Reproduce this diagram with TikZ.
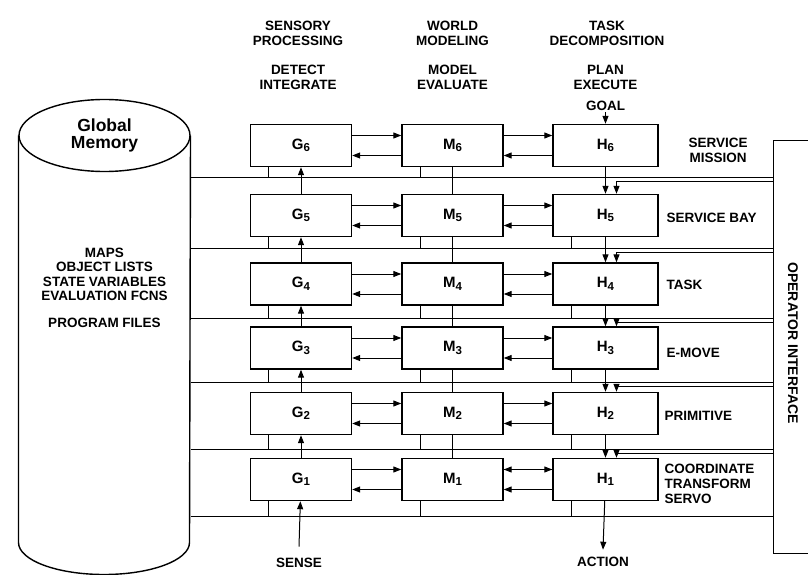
\documentclass[tikz,border=0pt]{standalone}
\usepackage{fontspec}
\setmainfont{Liberation Sans}
\usetikzlibrary{arrows.meta}

\newcommand{\idx}[1]{\raisebox{-2.5pt}{\fontsize{11.5}{11.5}\selectfont #1}}

\begin{document}
\begin{tikzpicture}[x=1pt, y=-1pt, line width=1pt,
    >={Triangle[length=8pt,width=6pt]},
    txt/.style={font=\fontsize{13.5}{15}\selectfont\bfseries, align=center, inner sep=1pt},
    unit/.style={draw, line width=1.4pt, minimum width=101pt, minimum height=42pt,
        inner sep=0pt, font=\fontsize{15}{15}\selectfont\bfseries}]
    \useasboundingbox (0,0) rectangle (808,575);
    \clip (0,0) rectangle (808,575);

    % global memory
    \node[minimum width=171pt, minimum height=406pt, inner sep=0pt] (mem) at (104.5,339) {};
    \draw[line width=1.4pt] (mem.north) ellipse [x radius=85.5pt, y radius=36pt];
    \draw[line width=1.4pt] (mem.north west) -- (mem.south west)
        arc[start angle=180, end angle=360, x radius=85.5pt, y radius=32pt] -- (mem.north east);
    \node[txt, font=\fontsize{17.5}{17}\selectfont\bfseries] (gm) at (104.5,135) {Global\\Memory};
    \node[txt, font=\fontsize{13.5}{14.5}\selectfont\bfseries] (data) at (104.5,274.5)
        {MAPS\\OBJECT LISTS\\STATE VARIABLES\\EVALUATION FCNS};
    \node[txt] (prog) at (104.5,323) {PROGRAM FILES};

    % operator interface
    \node[draw, line width=1.4pt, minimum width=60pt, minimum height=413pt, anchor=north west] (opi) at (773,140) {};
    \node[txt, font=\fontsize{14}{15}\selectfont\bfseries, rotate=-90] at (793,343) {OPERATOR INTERFACE};

    % column headings
    \node[txt] (sp) at (298,33.5) {SENSORY\\PROCESSING};
    \node[txt] (wm) at (452.5,33.5) {WORLD\\MODELING};
    \node[txt] (td) at (607,33.5) {TASK\\DECOMPOSITION};
    \node[txt] at (298,77) {DETECT\\INTEGRATE};
    \node[txt] at (452.5,77) {MODEL\\EVALUATE};
    \node[txt] at (605.5,77) {PLAN\\EXECUTE};

    % levels
    \foreach \i/\y/\b in {6/145.5/177,5/215.5/248,4/284/318,3/348/382,2/413.5/449,1/479.5/516}
    {
        \node[unit] (G\i) at (301,\y) {G\idx{\i}};
        \node[unit] (M\i) at (452.5,\y) {M\idx{\i}};
        \node[unit, minimum width=105pt] (H\i) at (605.5,\y) {H\idx{\i}};
        \coordinate (b\i) at (0,\b);
        \draw (mem.east |- b\i) -- (opi.west |- b\i);
        \draw[->] ([yshift=10pt]G\i.east) -- ([yshift=10pt]M\i.west);
        \draw[->] ([yshift=-10pt]M\i.west) -- ([yshift=-10pt]G\i.east);
        \draw[->] ([yshift=10pt]M\i.east) -- ([yshift=10pt]H\i.west);
        \draw[->] ([yshift=-10pt]H\i.west) -- ([yshift=-10pt]M\i.east);
        \draw ([xshift=19pt]G\i.south west) -- ([xshift=19pt]G\i.south west |- b\i);
        \draw ([xshift=19pt]M\i.south west) -- ([xshift=19pt]M\i.south west |- b\i);
    }
    \draw[->] ([yshift=10pt]H1.west) -- ([yshift=10pt]M1.east);

    \foreach \i/\j in {1/2,2/3,3/4,4/5,5/6}
    {
        \draw[->] (G\i.north) -- (G\j.south);
        \draw (M\i.north) -- (M\j.south);
        \draw[->] (H\j.south) -- (H\i.north);
        \draw ([xshift=19pt]H\i.south west) -- ([xshift=19pt]H\i.south west |- b\i);
        \draw[->] ([yshift=-4.5pt]opi.west |- b\j) -| ([xshift=11pt]H\i.north);
    }

    % level names
    \node[txt, anchor=west] at (687,150) {SERVICE\\MISSION};
    \node[txt, anchor=west] at (665,218) {SERVICE BAY};
    \node[txt, anchor=west] at (665,285) {TASK};
    \node[txt, anchor=west] at (665,353) {E-MOVE};
    \node[txt, anchor=west] at (663,416) {PRIMITIVE};
    \node[txt, anchor=west, align=left] at (663,483.5) {COORDINATE\\TRANSFORM\\SERVO};

    % inputs and outputs
    \node[txt] (goal) at (605.5,106) {GOAL};
    \draw[->] (goal) -- (H6);
    \node[txt] (sense) at (299,563) {SENSE};
    \draw[->] ([yshift=10pt]sense.north) -- (G1);
    \node[txt] (action) at (603,562) {ACTION};
    \draw[->] (H1) -- ([yshift=6pt]action.north);
\end{tikzpicture}
\end{document}
